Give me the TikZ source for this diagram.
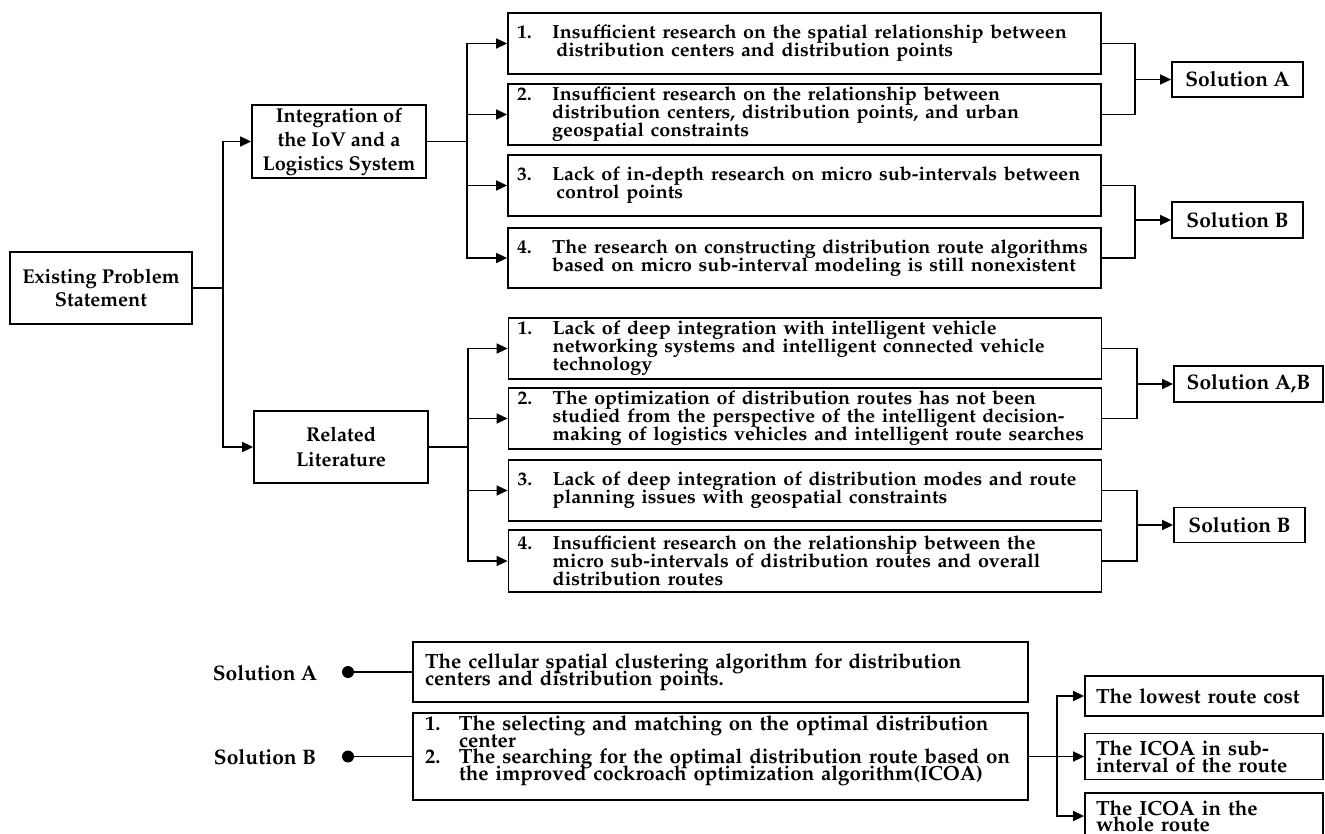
\documentclass[tikz,border=0pt]{standalone}
\usepackage[T1]{fontenc}
\usepackage{mathpazo}
\usepackage{graphicx}
\usetikzlibrary{arrows.meta}

% lines of a box, stretched horizontally, with a fixed line pitch
\newlength\numw
\newcommand\stretchedlines[3]{\noindent\scalebox{#1}[1]{\vbox{\baselineskip=#2\lineskiplimit=-100pt\lineskip=0pt\relax#3}}}
% one line with a hanging number column
\newcommand\numline[2]{\hbox{\makebox[\numw][l]{#1}#2}}

\begin{document}
\begin{tikzpicture}[x=1pt,y=-1pt,
  pbox/.style={draw,line width=1.8pt,inner sep=0pt},
  cbox/.style={pbox,align=center,font={\fontsize{20}{24}\selectfont\bfseries\lineskiplimit=-100pt}},
  ibox/.style={pbox,inner xsep=9pt,inner ysep=0pt,text width=575pt,
    font={\fontsize{19}{18}\selectfont\bfseries\setlength\numw{34pt}}},
  sol/.style={pbox,font={\fontsize{21}{24}\selectfont\bfseries}},
  lbox/.style={pbox,inner xsep=12pt,inner ysep=0pt,text width=591pt,
    font={\fontsize{20.5}{16.5}\selectfont\bfseries\setlength\numw{34pt}}},
  rbox/.style={pbox,inner xsep=11pt,inner ysep=0pt,text width=216pt,
    font={\fontsize{20.5}{16.5}\selectfont\bfseries}},
  lab/.style={font={\fontsize{21}{24}\selectfont\bfseries},inner sep=0pt},
  bdot/.style={circle,fill,inner sep=0pt,minimum size=12pt},
  conn/.style={line width=1.6pt},
  arr/.style={line width=1.6pt,-{Triangle[length=11pt,width=10pt]}}]

\fill[white] (0,0) rectangle (1325,834);
\useasboundingbox (0,0) rectangle (1325,834);

% ---- root and the two branches
\node[cbox,minimum width=182pt,minimum height=72pt,font={\fontsize{20}{23}\selectfont\bfseries\lineskiplimit=-100pt}]
  (ex) at (101,288) {Existing Problem\\Statement};
\node[cbox,minimum width=174pt,minimum height=73pt] (iov) at (339,141.5)
  {Integration of\\the IoV and a\\Logistics System};
\node[cbox,minimum width=174pt,minimum height=72pt,font={\fontsize{20}{25}\selectfont\bfseries\lineskiplimit=-100pt}]
  (rl) at (341,447) {Related\\Literature};

\coordinate (tr) at (223,288);
\draw[conn] (ex.east) -- (tr);
\draw[arr] (tr) |- (iov.west);
\draw[arr] (tr) |- (rl.west);

% ---- problems from the IoV side
\node[ibox,minimum height=61pt] (t1) at (804.5,43.5) {\stretchedlines{1.036}{18pt}{%
  \numline{1.}{Insufficient research on the spatial relationship between}%
  \numline{}{\hspace{4pt}distribution centers and distribution points}}};
\node[ibox,minimum height=61pt] (t2) at (804.5,114.5) {\stretchedlines{1.036}{18pt}{%
  \numline{2.}{Insufficient research on the relationship between}%
  \numline{}{distribution centers, distribution points, and urban}%
  \numline{}{geospatial constraints}}};
\node[ibox,minimum height=61pt] (t3) at (804.5,185.5) {\stretchedlines{1.036}{18pt}{%
  \numline{3.}{Lack of in-depth research on micro sub-intervals between}%
  \numline{}{\hspace{4pt}control points}}};
\node[ibox,minimum height=60pt] (t4) at (804.5,258) {\stretchedlines{1.036}{18pt}{%
  \numline{4.}{The research on constructing distribution route algorithms}%
  \numline{}{based on micro sub-interval modeling is still nonexistent}}};

\coordinate (b1) at (467,141.5);
\draw[conn] (iov.east) -- (b1);
\foreach \n in {t1,t2,t3,t4} \draw[arr] (b1) |- (\n.west);

% ---- problems from the literature side
\node[ibox,minimum height=61pt] (r1) at (805,348.5) {\stretchedlines{1.036}{18pt}{%
  \numline{1.}{Lack of deep integration with intelligent vehicle}%
  \numline{}{networking systems and intelligent connected vehicle}%
  \numline{}{technology}}};
\node[ibox,minimum height=61pt] (r2) at (805,418.5) {\stretchedlines{1.036}{18pt}{%
  \numline{2.}{The optimization of distribution routes has not been}%
  \numline{}{studied from the perspective of the intelligent decision-}%
  \numline{}{making of logistics vehicles and intelligent route searches}}};
\node[ibox,minimum height=61pt] (r3) at (805,490.5) {\stretchedlines{1.036}{18pt}{%
  \numline{3.}{Lack of deep integration of distribution modes and route}%
  \numline{}{planning issues with geospatial constraints}}};
\node[ibox,minimum height=62pt] (r4) at (805,561) {\stretchedlines{1.036}{18pt}{%
  \numline{4.}{Insufficient research on the relationship between the}%
  \numline{}{micro sub-intervals of distribution routes and overall}%
  \numline{}{distribution routes}}};

\coordinate (b2) at (468,447);
\draw[conn] (rl.east) -- (b2);
\foreach \n in {r1,r2,r3,r4} \draw[arr] (b2) |- (\n.west);

% ---- solutions on the right
\node[sol,minimum width=131pt,minimum height=35pt] (sa) at (1237.5,79.5) {Solution A};
\node[sol,minimum width=131pt,minimum height=36pt] (sb) at (1237.5,220) {Solution B};
\node[sol,minimum width=149pt,minimum height=36pt] (sab) at (1248.5,384) {Solution A,B};
\node[sol,minimum width=131pt,minimum height=35pt] (sb2) at (1239.5,525) {Solution B};

\coordinate (m1) at (1135,79.5);
\coordinate (m2) at (1135,220);
\coordinate (m3) at (1137,384);
\coordinate (m4) at (1137,525);
\draw[conn] (t1.east) -| (m1) |- (t2.east);
\draw[conn] (t3.east) -| (m2) |- (t4.east);
\draw[conn] (r1.east) -| (m3) |- (r2.east);
\draw[conn] (r3.east) -| (m4) |- (r4.east);
\draw[arr] (m1) -- (sa);
\draw[arr] (m2) -- (sb);
\draw[arr] (m3) -- (sab);
\draw[arr] (m4) -- (sb2);

% ---- legend of the two solutions
\node[lab] (la) at (265,673) {Solution A};
\node[lab] (lb) at (265,757) {Solution B};
\node[bdot] (da) at (348,672) {};
\node[bdot] (db) at (348,756.5) {};

\node[lbox,minimum height=60pt] (ba) at (720.5,672) {\stretchedlines{1}{16.5pt}{%
  \hbox{The cellular spatial clustering algorithm for distribution}%
  \hbox{centers and distribution points.}}};
\node[lbox,minimum height=87pt] (bb) at (720.5,756.5) {\raisebox{6pt}[\height][\depth]{\stretchedlines{1}{16.5pt}{%
  \numline{1.}{The selecting and matching on the optimal distribution}%
  \numline{}{center}%
  \numline{2.}{The searching for the optimal distribution route based on}%
  \numline{}{the improved cockroach optimization algorithm(ICOA)}}}};

\draw[conn] (da) -- (ba.west);
\draw[conn] (db) -- (bb.west);

% ---- outcomes of solution B
\node[rbox,minimum height=40pt] (c1) at (1204,696) {\stretchedlines{1}{16.5pt}{%
  \hbox{The lowest route cost}}};
\node[rbox,minimum height=46pt] (c2) at (1204,756.5) {\stretchedlines{1}{16.5pt}{%
  \hbox{The ICOA in sub-}\hbox{interval of the route}}};
\node[rbox,minimum height=46pt] (c3) at (1204,816) {\stretchedlines{1}{16.5pt}{%
  \hbox{The ICOA in the}\hbox{whole route}}};

\coordinate (j) at (1057,756.5);
\draw[conn] (bb.east) -- (j);
\draw[arr] (j) |- (c1.west);
\draw[arr] (j) -- (c2.west);
\draw[arr] (j) |- (c3.west);
\end{tikzpicture}
\end{document}
